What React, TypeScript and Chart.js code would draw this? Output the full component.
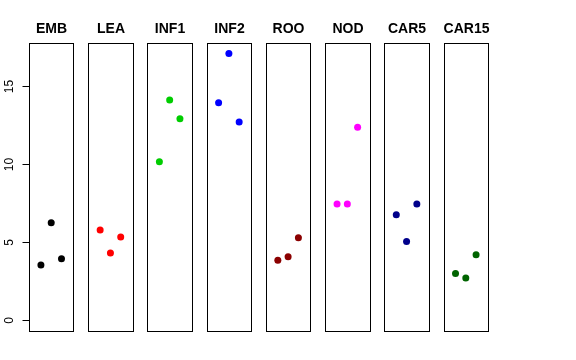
import React, { useEffect, useRef } from "react";
import { Chart, registerables } from "chart.js";

Chart.register(...registerables);

const panels = ["EMB", "LEA", "INF1", "INF2", "ROO", "NOD", "CAR5", "CAR15"];
const colors = ["#000000", "#FF0000", "#00CD00", "#0000FF", "#8B0000", "#FF00FF", "#00008B", "#006400"];
const positions = [1, 2, 3];
const embValues = [3.53, 6.24, 3.93];
const leaValues = [5.77, 4.29, 5.32];
const inf1Values = [10.15, 14.1, 12.9];
const inf2Values = [13.93, 17.07, 12.69];
const rooValues = [3.83, 4.06, 5.28];
const nodValues = [7.44, 7.44, 12.35];
const car5Values = [6.75, 5.04, 7.44];
const car15Values = [2.99, 2.69, 4.19];
const yTicks = [0, 5, 10, 15];

const seriesValues = [embValues, leaValues, inf1Values, inf2Values, rooValues, nodValues, car5Values, car15Values];

// panel geometry in x units: each panel spans [-0.16, 4.16], pitch between panels
const PANEL_MIN = -0.16;
const PANEL_MAX = 4.16;
const PITCH = 5.76;

export default function App() {
  const ref = useRef<HTMLCanvasElement>(null);
  useEffect(() => {
    if (!ref.current) return;
    const datasets = panels.map((name, i) => ({
      label: name,
      data: positions.map((p, j) => ({ x: i * PITCH + p, y: seriesValues[i][j] })),
      backgroundColor: colors[i],
      borderColor: colors[i],
      pointRadius: 3.5,
      pointHoverRadius: 3.5,
      borderWidth: 0,
    }));

    const framePlugin = {
      id: "frames",
      afterDatasetsDraw(chart: any) {
        const ctx = chart.ctx;
        const xs = chart.scales.x;
        const ys = chart.scales.y;
        const top = chart.chartArea.top;
        const bottom = chart.chartArea.bottom;
        ctx.save();
        ctx.strokeStyle = "#000";
        ctx.lineWidth = 1;
        panels.forEach((name, i) => {
          const l = Math.round(xs.getPixelForValue(i * PITCH + PANEL_MIN)) + 0.5;
          const r = Math.round(xs.getPixelForValue(i * PITCH + PANEL_MAX)) + 0.5;
          ctx.strokeRect(l, Math.round(top) + 0.5, r - l, Math.round(bottom - top));
          ctx.fillStyle = "#000";
          ctx.font = "bold 14px 'Liberation Sans', Arial, sans-serif";
          ctx.textAlign = "center";
          ctx.textBaseline = "middle";
          ctx.fillText(name, (l + r) / 2, 29);
        });
        // y axis
        const ax = Math.round(xs.getPixelForValue(PANEL_MIN)) + 0.5;
        const y0 = ys.getPixelForValue(yTicks[0]);
        const y1 = ys.getPixelForValue(yTicks[yTicks.length - 1]);
        ctx.beginPath();
        ctx.moveTo(ax, Math.round(y0) + 0.5);
        ctx.lineTo(ax, Math.round(y1) + 0.5);
        ctx.stroke();
        ctx.font = "12px 'Liberation Sans', Arial, sans-serif";
        yTicks.forEach((t) => {
          const py = Math.round(ys.getPixelForValue(t)) + 0.5;
          ctx.beginPath();
          ctx.moveTo(ax - 7, py);
          ctx.lineTo(ax, py);
          ctx.stroke();
          ctx.save();
          ctx.translate(10, py);
          ctx.rotate(-Math.PI / 2);
          ctx.textAlign = "center";
          ctx.textBaseline = "middle";
          ctx.fillText(String(t), 0, 0);
          ctx.restore();
        });
        ctx.restore();
      },
    };

    const chart = new Chart(ref.current, {
      type: "scatter",
      data: { datasets },
      options: {
        animation: false,
        responsive: false,
        maintainAspectRatio: false,
        layout: { padding: { left: 29, right: 88, top: 43, bottom: 29 } },
        plugins: { legend: { display: false }, tooltip: { enabled: false }, title: { display: false } },
        scales: {
          x: { type: "linear", display: false, min: PANEL_MIN, max: 7 * PITCH + PANEL_MAX },
          y: { type: "linear", display: false, min: -0.7, max: 17.75 },
        },
      },
      plugins: [framePlugin],
    });
    return () => chart.destroy();
  }, []);
  return (
    <div style={{ position: "fixed", left: 0, top: 0, width: 576, height: 360, background: "#fff" }}>
      <canvas ref={ref} width={576} height={360} style={{ width: 576, height: 360, display: "block" }} />
    </div>
  );
}
